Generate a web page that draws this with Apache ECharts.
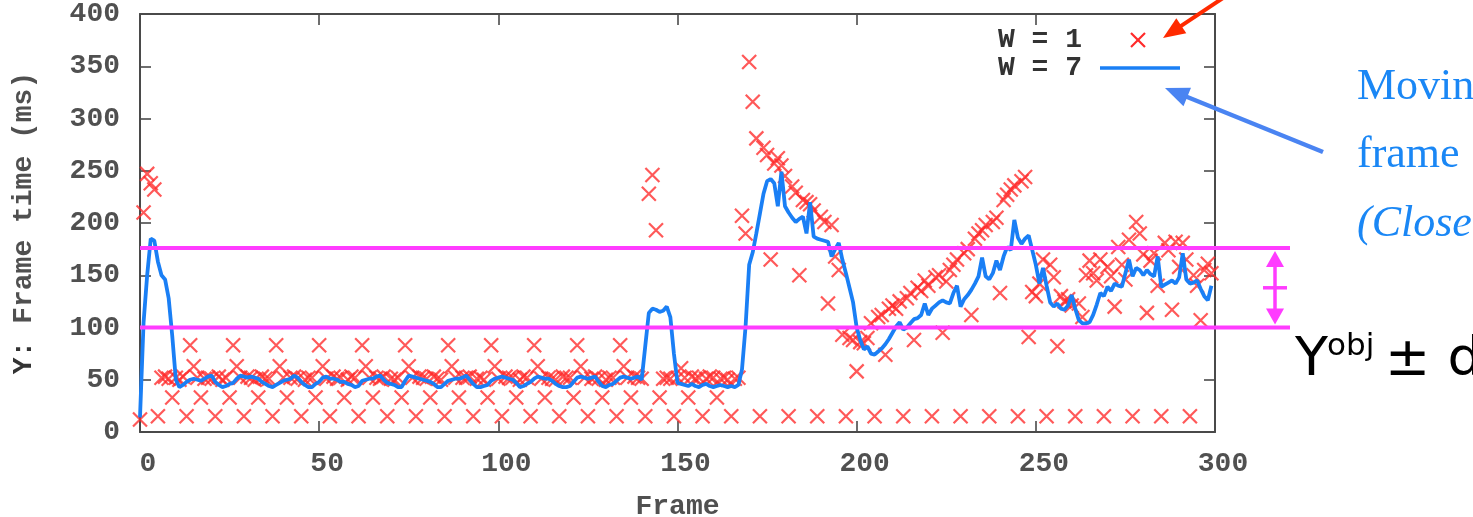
<!DOCTYPE html>
<html>
<head>
<meta charset="utf-8">
<script src="https://cdn.jsdelivr.net/npm/echarts@6/dist/echarts.min.js"></script>
<style>
  html, body { margin: 0; padding: 0; background: #fff; overflow: hidden; }
  #chart { width: 1473px; height: 517px; }
</style>
</head>
<body>
<div id="chart"></div>
<script>
// Frame time per frame (ms), frames 0..299, window W = 1 (raw samples)
const w1Times = [
  12, 210, 247, 238, 232, 15, 52, 53, 51, 33,
  52, 50, 53, 15, 83, 63, 52, 33, 51, 52,
  51, 15, 53, 50, 52, 33, 83, 63, 52, 15,
  53, 52, 50, 33, 53, 51, 51, 15, 83, 63,
  52, 33, 52, 53, 51, 15, 50, 52, 52, 33,
  83, 63, 51, 15, 53, 51, 52, 33, 50, 53,
  52, 15, 83, 63, 52, 33, 52, 51, 53, 15,
  51, 50, 52, 33, 83, 63, 52, 15, 53, 52,
  51, 33, 53, 51, 50, 15, 83, 63, 52, 33,
  52, 52, 53, 15, 51, 52, 50, 33, 83, 63,
  51, 15, 53, 52, 52, 33, 50, 53, 52, 15,
  83, 63, 51, 33, 52, 51, 50, 15, 53, 52,
  52, 33, 83, 63, 52, 15, 51, 53, 51, 33,
  50, 52, 52, 15, 83, 63, 52, 33, 53, 52,
  51, 15, 228, 246, 193, 33, 51, 52, 51, 15,
  52, 61, 52, 33, 53, 51, 52, 15, 51, 53,
  52, 33, 51, 52, 50, 15, 51, 52, 207, 190,
  354, 316, 281, 15, 272, 265, 165, 257, 262, 255,
  245, 15, 235, 229, 150, 222, 220, 218, 212, 15,
  206, 201, 123, 198, 168, 155, 93, 15, 90, 88,
  58, 86, 85, 90, 104, 15, 110, 112, 74, 118,
  121, 118, 125, 15, 128, 133, 88, 138, 135, 145,
  140, 15, 148, 150, 95, 144, 155, 160, 165, 15,
  171, 175, 112, 185, 190, 193, 198, 15, 201, 205,
  133, 222, 227, 232, 236, 15, 240, 244, 91, 134,
  130, 142, 165, 15, 160, 148, 82, 130, 125, 127,
  121, 15, 123, 110, 150, 164, 152, 145, 165, 15,
  158, 149, 120, 177, 160, 146, 184, 15, 201, 190,
  170, 114, 164, 171, 140, 15, 181, 174, 117, 182,
  158, 181, 165, 15, 150, 140, 107, 155, 161, 152
];

// Moving-window frame time (ms), frames 0..299, window W = 7
const w7Times = [
  14, 105, 150, 185, 183, 163, 150, 146, 128, 92,
  50, 43, 45, 48, 50, 51, 50, 49, 51, 53,
  54, 48, 45, 43, 44, 46, 47, 51, 54, 53,
  52, 53, 52, 51, 48, 46, 44, 43, 45, 47,
  49, 50, 51, 54, 52, 48, 45, 43, 43, 46,
  48, 52, 53, 51, 51, 50, 48, 48, 46, 45,
  43, 44, 49, 50, 51, 51, 53, 54, 50, 47,
  46, 45, 43, 43, 49, 54, 53, 52, 51, 50,
  49, 48, 46, 43, 43, 46, 49, 50, 51, 51,
  52, 54, 50, 46, 43, 43, 44, 45, 49, 51,
  52, 53, 52, 51, 50, 47, 43, 44, 46, 48,
  51, 53, 52, 51, 51, 49, 46, 44, 43, 43,
  44, 48, 52, 53, 52, 51, 52, 53, 48, 44,
  43, 45, 46, 49, 52, 53, 52, 51, 52, 53,
  50, 82, 114, 118, 117, 115, 116, 120, 110, 75,
  47, 46, 45, 44, 46, 44, 43, 45, 46, 44,
  43, 44, 45, 44, 43, 44, 43, 45, 60, 101,
  160, 172, 190, 209, 228, 240, 242, 238, 216, 249,
  216, 210, 205, 201, 204, 206, 190, 220, 187, 185,
  184, 183, 182, 168, 175, 181, 165, 152, 138, 124,
  100, 88, 79, 82, 75, 74, 77, 80, 84, 89,
  95, 101, 105, 98, 100, 104, 108, 109, 112, 123,
  112, 118, 121, 124, 126, 124, 123, 133, 140, 120,
  127, 131, 136, 142, 149, 167, 149, 146, 152, 164,
  155, 168, 177, 174, 203, 186, 180, 185, 188, 174,
  160, 142, 157, 140, 124, 120, 123, 118, 117, 121,
  131, 118, 107, 104, 104, 105, 112, 122, 133, 130,
  139, 135, 142, 140, 139, 152, 165, 149, 157, 155,
  150, 155, 151, 149, 168, 139, 141, 143, 145, 142,
  148, 171, 146, 142, 143, 145, 137, 130, 126, 140
];

// Target band Yobj ± d (ms)
const bandLow = 100;
const bandHigh = 176;

// Axis ranges and tick steps
const xRange = [0, 300];
const yRange = [0, 400];
const xStep = 50;
const yStep = 50;

// Key and callout texts
const seriesNames = ['W = 1', 'W = 7'];
const noteLines = ['Moving', 'frame', '(Closer'];

const RED = '#ff2a2a';
const BLUE = '#1a7ff5';
const MAGENTA = '#ff3cff';
const AXIS = '#4a4a4a';
const LABEL = '#505050';
const MONO = '"Liberation Mono", "DejaVu Sans Mono", monospace';
const NOTE_FONT = '"Liberation Serif", "DejaVu Serif", serif';

const chart = echarts.init(document.getElementById('chart'), null, { renderer: 'canvas' });

const w1Data = w1Times.map((v, i) => [xRange[0] + i, v]);
const w7Data = w7Times.map((v, i) => [xRange[0] + i, v]);

function axisBase(extra) {
  return Object.assign({
    type: 'value',
    splitLine: { show: false },
    axisLine: { show: true, onZero: false, lineStyle: { color: AXIS, width: 2 } },
    axisTick: { show: true, inside: true, length: 11, lineStyle: { color: AXIS, width: 1.6 } }
  }, extra);
}

const labelStyle = { color: LABEL, fontFamily: MONO, fontSize: 28, fontWeight: 'bold' };

const option = {
  backgroundColor: '#fff',
  animation: false,
  grid: { left: 140, top: 14, right: 258, bottom: 85, containLabel: false, outerBoundsMode: 'none' },
  xAxis: [
    axisBase({
      min: xRange[0], max: xRange[1], interval: xStep, position: 'bottom',
      axisLabel: Object.assign({ margin: 18, padding: [0, 0, 0, 16] }, labelStyle),
      name: 'Frame', nameLocation: 'middle', nameGap: 61,
      nameTextStyle: { color: LABEL, fontFamily: MONO, fontSize: 28, fontWeight: 'bold' }
    }),
    axisBase({
      min: xRange[0], max: xRange[1], interval: xStep, position: 'top',
      axisLabel: { show: false }
    })
  ],
  yAxis: [
    axisBase({
      min: yRange[0], max: yRange[1], interval: yStep, position: 'left',
      axisLabel: Object.assign({ margin: 20, padding: [10, 0, 0, 0] }, labelStyle),
      name: '{b|Y:} Frame time (ms)', nameLocation: 'middle', nameGap: 102,
      nameTextStyle: {
        color: LABEL, fontFamily: MONO, fontSize: 28, fontWeight: 'bold',
        rich: { b: { color: '#333', fontFamily: MONO, fontSize: 28, fontWeight: 'bold' } }
      }
    }),
    axisBase({
      min: yRange[0], max: yRange[1], interval: yStep, position: 'right',
      axisLabel: { show: false }
    })
  ],
  series: [
    {
      name: seriesNames[0],
      type: 'scatter',
      data: w1Data,
      symbol: 'path://M0,0L10,10M10,0L0,10',
      symbolSize: 14,
      itemStyle: { color: 'rgba(0,0,0,0)', borderColor: RED, borderWidth: 2.2, opacity: 0.78 },
      z: 2
    },
    {
      name: seriesNames[1],
      type: 'line',
      data: w7Data,
      showSymbol: false,
      symbol: 'none',
      lineStyle: { color: BLUE, width: 3.8 },
      z: 3
    }
  ]
};

chart.setOption(option);

// Annotation layer, positioned from the axis scales
const toPx = (x, y) => chart.convertToPixel({ gridIndex: 0 }, [x, y]);
const [gx0, gyTop] = toPx(xRange[0], yRange[1]);
const [gx1] = toPx(xRange[1], yRange[0]);
const yHi = toPx(xRange[0], bandHigh)[1];
const yLo = toPx(xRange[0], bandLow)[1];
const yMid = toPx(xRange[0], (bandHigh + bandLow) / 2)[1];

const lineEndX = gx1 + 75;
const arrowX = gx1 + 60;

function seg(x1, y1, x2, y2, color, w, z) {
  return { type: 'line', shape: { x1, y1, x2, y2 }, style: { stroke: color, lineWidth: w }, z: z || 10, silent: true };
}
function tri(points, color, z) {
  return { type: 'polygon', shape: { points }, style: { fill: color }, z: z || 10, silent: true };
}
function arrow(tail, tip, color, w, headLen, headHalf) {
  const dx = tip[0] - tail[0], dy = tip[1] - tail[1];
  const len = Math.hypot(dx, dy);
  const ux = dx / len, uy = dy / len;
  const bx = tip[0] - ux * headLen, by = tip[1] - uy * headLen;
  return [
    seg(tail[0], tail[1], bx + ux * 2, by + uy * 2, color, w, 12),
    tri([[tip[0], tip[1]], [bx - uy * headHalf, by + ux * headHalf], [bx + uy * headHalf, by - ux * headHalf]], color, 12)
  ];
}

const legendTextX = gx1 - 133;
const leg1Y = gyTop + 26;
const leg2Y = gyTop + 54;
const legMarkX = gx1 - 77;
const legFont = 'bold 28px ' + MONO;

const graphics = [
  // target band limits
  seg(gx0, yHi, lineEndX, yHi, MAGENTA, 4, 20),
  seg(gx0, yLo, lineEndX, yLo, MAGENTA, 4, 20),
  // ± d double arrow
  seg(arrowX, yHi + 14, arrowX, yLo - 14, MAGENTA, 3.5, 20),
  tri([[arrowX, yHi + 3], [arrowX - 9, yHi + 19], [arrowX + 9, yHi + 19]], MAGENTA, 20),
  tri([[arrowX, yLo - 3], [arrowX - 9, yLo - 19], [arrowX + 9, yLo - 19]], MAGENTA, 20),
  seg(arrowX - 12, yMid, arrowX + 12, yMid, MAGENTA, 3.5, 20),
  // band label
  { type: 'text', z: 20, style: { text: 'Y', x: arrowX + 20, y: yLo + 60, fill: '#000', font: '54px "DejaVu Sans", sans-serif', textVerticalAlign: 'bottom' } },
  { type: 'text', z: 20, style: { text: 'obj', x: arrowX + 52, y: yLo + 35, fill: '#000', font: '31px "DejaVu Sans", sans-serif', textVerticalAlign: 'bottom' } },
  { type: 'text', z: 20, style: { text: '± d', x: arrowX + 110, y: yLo + 60, fill: '#000', font: '54px "DejaVu Sans", sans-serif', textVerticalAlign: 'bottom' } },
  // key
  { type: 'text', z: 15, style: { text: seriesNames[0], x: legendTextX, y: leg1Y, fill: '#333', font: legFont, textAlign: 'right', textVerticalAlign: 'middle' } },
  { type: 'text', z: 15, style: { text: seriesNames[1], x: legendTextX, y: leg2Y, fill: '#333', font: legFont, textAlign: 'right', textVerticalAlign: 'middle' } },
  seg(legMarkX - 7, leg1Y - 7, legMarkX + 7, leg1Y + 7, RED, 2.2, 15),
  seg(legMarkX + 7, leg1Y - 7, legMarkX - 7, leg1Y + 7, RED, 2.2, 15),
  seg(gx1 - 115, leg2Y, gx1 - 35, leg2Y, BLUE, 3.6, 15),
  // callout arrows
  ...arrow([gx1 + 8, gyTop - 16], [gx1 - 52, gyTop + 24], '#ff2a00', 4, 22, 9),
  ...arrow([gx1 + 108, gyTop + 138], [gx1 - 50, gyTop + 74], '#4a84f2', 4.5, 24, 10),
  // callout text
  { type: 'text', z: 20, style: { text: noteLines[0], x: gx1 + 142, y: gyTop + 95, fill: '#1a87f5', font: '44px ' + NOTE_FONT, textVerticalAlign: 'bottom' } },
  { type: 'text', z: 20, style: { text: noteLines[1], x: gx1 + 142, y: gyTop + 163, fill: '#1a87f5', font: '44px ' + NOTE_FONT, textVerticalAlign: 'bottom' } },
  { type: 'text', z: 20, style: { text: noteLines[2], x: gx1 + 142, y: gyTop + 232, fill: '#1a87f5', font: 'italic 44px ' + NOTE_FONT, textVerticalAlign: 'bottom' } }
];

chart.setOption({ graphic: graphics });
</script>
</body>
</html>
